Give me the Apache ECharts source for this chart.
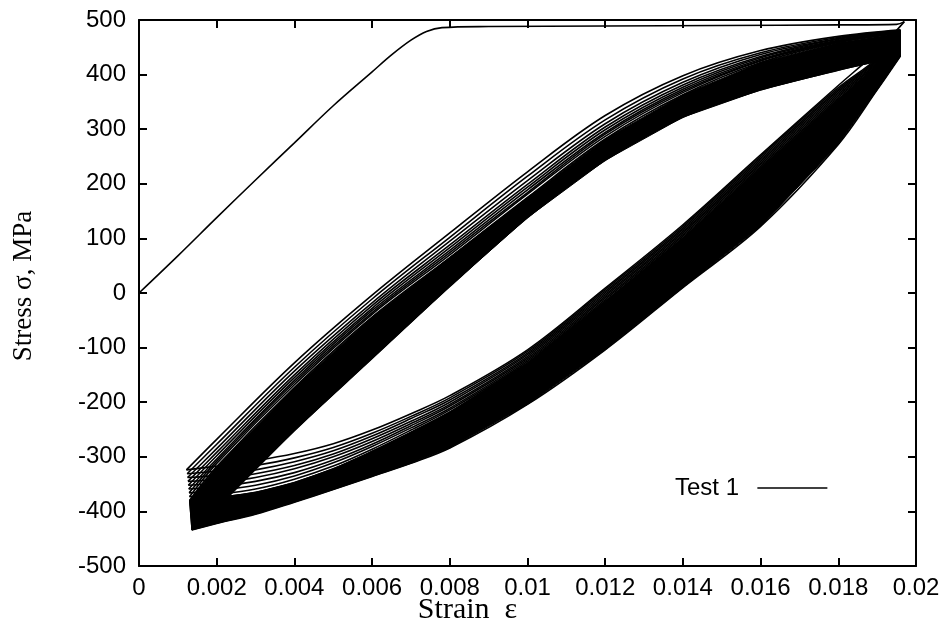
<!DOCTYPE html>
<html>
<head>
<meta charset="utf-8">
<script src="https://cdn.jsdelivr.net/npm/echarts@6/dist/echarts.min.js"></script>
<style>
  html, body { margin: 0; padding: 0; background: #fff; }
  #main { width: 943px; height: 633px; }
</style>
</head>
<body>
<div id="main"></div>
<script>
// first monotonic loading, [strain, stress MPa]
var firstLoad = [[0, 0], [0.001, 68], [0.002, 138], [0.003, 207], [0.004, 275], [0.005, 343],
    [0.006, 405], [0.0065, 436], [0.007, 463], [0.0074, 479], [0.0078, 486], [0.009, 488],
    [0.012, 489], [0.015, 490], [0.018, 491], [0.0195, 492], [0.0197, 497]];

// reloading branches (lower-left corner -> top right), read at these strains
var reloadStrain = [0.002, 0.004, 0.006, 0.008, 0.010, 0.012, 0.014, 0.016, 0.018, 0.0196];
// unloading branches (top right -> lower-left corner)
var unloadStrain = [0.019, 0.018, 0.016, 0.014, 0.012, 0.010, 0.008, 0.007, 0.006, 0.005, 0.004, 0.003, 0.002];

// lower-left corners of the first cycles (end of unloading = start of reloading)
var cornerStrain = [0.00122, 0.00124, 0.00125, 0.00126, 0.00127, 0.00128, 0.00129, 0.0013];
var cornerStress = [-324, -331, -338, -345, -352, -359, -366, -373];

// separate early cycles
var reloadStress = [
    [-268, -128, -4, 110, 222, 325, 398, 444, 470, 482],
    [-277, -136, -11, 102, 214, 317, 392, 440, 468, 481],
    [-285, -143, -18, 95, 206, 310, 386, 437, 466, 480],
    [-292, -150, -23, 88, 199, 304, 381, 433, 465, 479],
    [-298, -155, -28, 83, 194, 299, 377, 431, 463, 478],
    [-304, -160, -32, 78, 189, 294, 373, 428, 462, 478],
    [-308, -164, -36, 74, 184, 291, 370, 426, 461, 477],
    [-312, -168, -39, 70, 181, 287, 367, 425, 460, 477]
];
var unloadStress = [
    [443, 380, 253, 125, 9, -104, -188, -221, -251, -276, -294, -307, -317],
    [430, 376, 250, 122, 6, -107, -192, -226, -257, -283, -302, -316, -326],
    [428, 373, 247, 119, 3, -110, -196, -230, -262, -289, -309, -324, -334],
    [426, 370, 244, 116, 0, -113, -200, -235, -267, -295, -316, -331, -341],
    [424, 367, 241, 113, -3, -116, -204, -239, -272, -300, -322, -338, -348],
    [422, 364, 238, 110, -6, -119, -207, -243, -277, -306, -329, -345, -355],
    [420, 361, 235, 107, -9, -122, -211, -247, -281, -311, -335, -352, -362],
    [418, 358, 232, 104, -12, -125, -214, -251, -286, -317, -341, -359, -369]
];

// edges of the dense band made of the later cycles
var denseCorner = [0.0013, -380];
var denseReloadTop = [-318, -173, -44, 65, 175, 282, 363, 422, 459, 476];
var denseUnloadTop = [416, 355, 229, 101, -15, -128, -218, -255, -290, -322, -347, -365, -375];
var lastCorner = [0.00136, -434];
var lastReload = [-394, -252, -120, 12, 138, 243, 322, 372, 408, 434];
var lastUnload = [372, 272, 122, 10, -104, -204, -284, -312, -336, -360, -383, -405, -422];

function branch(start, xs, ys, end) {
    var d = [start];
    for (var i = 0; i < xs.length; i++) d.push([xs[i], ys[i]]);
    if (end) d.push(end);
    return d;
}

var lineStyle = { color: '#000', width: 1.6 };
function lineSeries(data) {
    return {
        type: 'line', name: 'Test 1', data: data,
        showSymbol: false, symbol: 'none', smooth: 0.35,
        itemStyle: { color: '#000' }, lineStyle: lineStyle, animation: false, silent: true
    };
}

var series = [];
series.push(lineSeries(firstLoad));
var peak = firstLoad[firstLoad.length - 1];
for (var k = 0; k < reloadStress.length; k++) {
    var corner = [cornerStrain[k], cornerStress[k]];
    series.push(lineSeries(branch(peak, unloadStrain, unloadStress[k], corner)));
    var rl = branch(corner, reloadStrain, reloadStress[k]);
    series.push(lineSeries(rl));
    peak = rl[rl.length - 1];
}

// dense part of the cycles, filled between its edges
var upTop = branch(denseCorner, reloadStrain, denseReloadTop);
var upBottom = branch(lastCorner, reloadStrain, lastReload);
var lowTop = branch([0.0196, 476], unloadStrain, denseUnloadTop, denseCorner);
var lowBottom = branch([0.0196, 434], unloadStrain, lastUnload, lastCorner);
var bands = [upTop.concat(upBottom.slice().reverse()), lowTop.concat(lowBottom.slice().reverse())];

series.push({
    type: 'custom', name: 'band', silent: true, animation: false,
    data: [0, 1],
    renderItem: function (params, api) {
        var pts = bands[params.dataIndex].map(function (p) { return api.coord(p); });
        return { type: 'polygon', shape: { points: pts }, style: { fill: '#000', stroke: '#000', lineWidth: 1 } };
    },
    z: 2
});
series.push(lineSeries(upTop));
series.push(lineSeries(upBottom));
series.push(lineSeries(lowTop));
series.push(lineSeries(lowBottom));

var labelFont = { fontFamily: 'Liberation Sans, Arial, sans-serif', fontSize: 24, color: '#000' };
var serif = 'Liberation Serif, Times New Roman, serif';
var axisLineStyle = { color: '#000', width: 2 };

var option = {
    backgroundColor: '#fff',
    animation: false,
    grid: { left: 139, right: 27, top: 20, bottom: 67, outerBoundsMode: 'none' },
    legend: {
        data: ['Test 1'],
        left: 670, top: 471,
        align: 'right',
        icon: 'rect', itemWidth: 70, itemHeight: 1.6,
        formatter: 'Test 1  ',
        textStyle: labelFont,
        itemStyle: { color: '#000' }
    },
    xAxis: [{
        type: 'value', min: 0, max: 0.02, interval: 0.002,
        name: 'Strain  ε', nameLocation: 'middle', nameGap: 29, nameMoveOverlap: false,
        nameTextStyle: { fontFamily: serif, fontSize: 30, color: '#000', padding: [0, 120, 0, 0] },
        axisLine: { onZero: false, lineStyle: axisLineStyle },
        axisTick: { inside: true, length: 8, lineStyle: axisLineStyle },
        axisLabel: Object.assign({ margin: 10, formatter: function (v) { return String(+v.toFixed(3)); } }, labelFont),
        splitLine: { show: false }
    }, {
        type: 'value', min: 0, max: 0.02, interval: 0.002, position: 'top',
        axisLine: { onZero: false, lineStyle: axisLineStyle },
        axisTick: { inside: true, length: 8, lineStyle: axisLineStyle },
        axisLabel: { show: false }, splitLine: { show: false }
    }],
    yAxis: [{
        type: 'value', min: -500, max: 500, interval: 100,
        name: 'Stress σ, MPa', nameLocation: 'middle', nameGap: 102, nameRotate: 90, nameMoveOverlap: false,
        nameTextStyle: { fontFamily: serif, fontSize: 27, color: '#000', padding: [0, 0, 0, 14] },
        axisLine: { onZero: false, lineStyle: axisLineStyle },
        axisTick: { inside: true, length: 8, lineStyle: axisLineStyle },
        axisLabel: Object.assign({ margin: 13 }, labelFont),
        splitLine: { show: false }
    }, {
        type: 'value', min: -500, max: 500, interval: 100, position: 'right',
        axisLine: { onZero: false, lineStyle: axisLineStyle },
        axisTick: { inside: true, length: 8, lineStyle: axisLineStyle },
        axisLabel: { show: false }, splitLine: { show: false }
    }],
    series: series
};

var chart = echarts.init(document.getElementById('main'));
chart.setOption(option);
</script>
</body>
</html>
